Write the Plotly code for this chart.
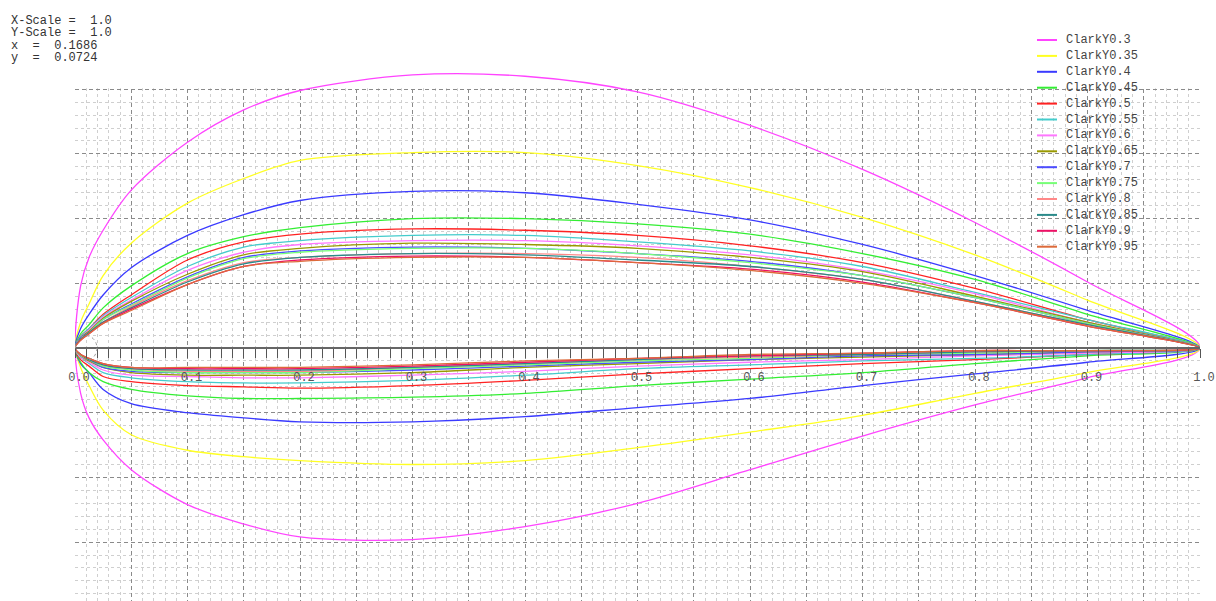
import plotly.graph_objects as go

# chord stations
x_stations = [0, 0.005, 0.0125, 0.025, 0.05, 0.1, 0.15, 0.2, 0.3, 0.4, 0.5, 0.6, 0.7, 0.8, 0.9, 1.0]

names = ["ClarkY0.3", "ClarkY0.35", "ClarkY0.4", "ClarkY0.45", "ClarkY0.5", "ClarkY0.55",
         "ClarkY0.6", "ClarkY0.65", "ClarkY0.7", "ClarkY0.75", "ClarkY0.8", "ClarkY0.85",
         "ClarkY0.9", "ClarkY0.95"]

colors = ["#ff44ff", "#ffff22", "#3a3aff", "#33ee33", "#ff2222", "#44cccc", "#ff77ff",
          "#999900", "#4d4dff", "#77ff77", "#ff8888", "#2a8a8a", "#ee1166", "#dd6a3a"]

upper = {
    "ClarkY0.3":  [0, 0.048, 0.070, 0.091, 0.122, 0.159, 0.184, 0.199, 0.211, 0.210, 0.198, 0.172, 0.138, 0.097, 0.051, 0],
    "ClarkY0.35": [0, 0.020, 0.034, 0.056, 0.081, 0.112, 0.131, 0.145, 0.151, 0.151, 0.141, 0.124, 0.101, 0.072, 0.037, 0],
    "ClarkY0.4":  [0, 0.015, 0.026, 0.041, 0.062, 0.087, 0.103, 0.114, 0.121, 0.120, 0.111, 0.099, 0.080, 0.056, 0.029, 0],
    "ClarkY0.45": [0, 0.011, 0.018, 0.031, 0.048, 0.073, 0.086, 0.093, 0.100, 0.100, 0.096, 0.088, 0.073, 0.053, 0.026, 0],
    "ClarkY0.5":  [0, 0.009, 0.015, 0.026, 0.041, 0.068, 0.082, 0.088, 0.092, 0.091, 0.087, 0.079, 0.066, 0.046, 0.022, 0],
    "ClarkY0.55": [0, 0.009, 0.015, 0.025, 0.039, 0.063, 0.078, 0.083, 0.087, 0.087, 0.082, 0.075, 0.063, 0.043, 0.022, 0],
    "ClarkY0.6":  [0, 0.008, 0.014, 0.024, 0.037, 0.060, 0.074, 0.080, 0.083, 0.083, 0.079, 0.072, 0.060, 0.042, 0.020, 0],
    "ClarkY0.65": [0, 0.008, 0.013, 0.023, 0.036, 0.057, 0.072, 0.077, 0.081, 0.080, 0.077, 0.070, 0.059, 0.040, 0.020, 0],
    "ClarkY0.7":  [0, 0.008, 0.012, 0.022, 0.034, 0.055, 0.070, 0.075, 0.078, 0.077, 0.073, 0.067, 0.056, 0.039, 0.019, 0],
    "ClarkY0.75": [0, 0.007, 0.012, 0.022, 0.033, 0.054, 0.069, 0.074, 0.077, 0.077, 0.073, 0.066, 0.056, 0.039, 0.019, 0],
    "ClarkY0.8":  [0, 0.007, 0.012, 0.020, 0.032, 0.052, 0.066, 0.070, 0.073, 0.073, 0.070, 0.063, 0.053, 0.036, 0.018, 0],
    "ClarkY0.85": [0, 0.007, 0.012, 0.020, 0.031, 0.051, 0.065, 0.070, 0.073, 0.072, 0.068, 0.063, 0.053, 0.036, 0.018, 0],
    "ClarkY0.9":  [0, 0.006, 0.011, 0.019, 0.030, 0.049, 0.063, 0.068, 0.071, 0.070, 0.066, 0.061, 0.051, 0.035, 0.017, 0],
    "ClarkY0.95": [0, 0.006, 0.011, 0.019, 0.029, 0.049, 0.063, 0.067, 0.070, 0.070, 0.066, 0.060, 0.050, 0.035, 0.017, 0],
}

lower = {
    "ClarkY0.3":  [0, -0.035, -0.054, -0.071, -0.094, -0.121, -0.136, -0.146, -0.148, -0.138, -0.120, -0.094, -0.068, -0.044, -0.023, 0],
    "ClarkY0.35": [0, -0.015, -0.029, -0.048, -0.067, -0.079, -0.084, -0.087, -0.090, -0.087, -0.077, -0.065, -0.052, -0.035, -0.019, 0],
    "ClarkY0.4":  [0, -0.012, -0.019, -0.032, -0.043, -0.050, -0.054, -0.057, -0.057, -0.053, -0.046, -0.039, -0.029, -0.020, -0.011, 0],
    "ClarkY0.45": [0, -0.011, -0.019, -0.026, -0.032, -0.037, -0.039, -0.039, -0.038, -0.035, -0.029, -0.024, -0.019, -0.012, -0.006, 0],
    "ClarkY0.5":  [0, -0.009, -0.014, -0.022, -0.026, -0.029, -0.030, -0.031, -0.029, -0.025, -0.020, -0.016, -0.012, -0.009, -0.005, 0],
    "ClarkY0.55": [0, -0.007, -0.012, -0.019, -0.023, -0.026, -0.027, -0.027, -0.025, -0.021, -0.016, -0.013, -0.010, -0.008, -0.005, 0],
    "ClarkY0.6":  [0, -0.007, -0.011, -0.017, -0.021, -0.022, -0.023, -0.023, -0.021, -0.018, -0.014, -0.011, -0.009, -0.006, -0.004, 0],
    "ClarkY0.65": [0, -0.006, -0.010, -0.015, -0.019, -0.021, -0.021, -0.021, -0.019, -0.015, -0.012, -0.009, -0.007, -0.005, -0.003, 0],
    "ClarkY0.7":  [0, -0.006, -0.009, -0.015, -0.018, -0.019, -0.019, -0.019, -0.017, -0.014, -0.011, -0.009, -0.006, -0.005, -0.003, 0],
    "ClarkY0.75": [0, -0.006, -0.009, -0.014, -0.017, -0.019, -0.019, -0.019, -0.016, -0.013, -0.010, -0.008, -0.005, -0.004, -0.002, 0],
    "ClarkY0.8":  [0, -0.005, -0.009, -0.013, -0.016, -0.018, -0.018, -0.018, -0.015, -0.012, -0.009, -0.007, -0.005, -0.003, -0.002, 0],
    "ClarkY0.85": [0, -0.005, -0.009, -0.013, -0.016, -0.017, -0.017, -0.017, -0.015, -0.012, -0.009, -0.006, -0.005, -0.003, -0.002, 0],
    "ClarkY0.9":  [0, -0.005, -0.008, -0.012, -0.015, -0.016, -0.016, -0.016, -0.014, -0.011, -0.008, -0.006, -0.004, -0.002, -0.002, 0],
    "ClarkY0.95": [0, -0.005, -0.008, -0.012, -0.015, -0.015, -0.015, -0.015, -0.013, -0.010, -0.008, -0.005, -0.004, -0.002, -0.002, 0],
}

info_lines = ["X-Scale =  1.0", "Y-Scale =  1.0", "x  =  0.1686", "y  =  0.0724"]

# grid extent (the grid stops at y = 0.2 while curves may go above it)
grid_top = 0.2

# leading edge radius marker (chord units)
le_center = 0.01
le_radius = 0.0095

W, H = 1216, 601
MONO = "Liberation Mono, Courier New, monospace"

fig = go.Figure()
for name, col in zip(names, colors):
    xs = x_stations[::-1] + x_stations[1:]
    ys = upper[name][::-1] + lower[name][1:]
    fig.add_trace(go.Scatter(
        x=xs, y=ys, mode="lines", name=name,
        line=dict(color=col, width=1.3, shape="spline", smoothing=0.9),
        xaxis="x", yaxis="y", showlegend=False,
    ))

y_range = [-0.1955, 0.238]
px_per_unit = 1294.0
y_top_px = 348 - y_range[1] * px_per_unit
x_dom = [75 / W, 1200 / W]
y_dom = [0, 1 - y_top_px / H]

fig.update_layout(
    width=W, height=H,
    margin=dict(l=0, r=0, t=0, b=0, autoexpand=False),
    paper_bgcolor="white", plot_bgcolor="white",
    showlegend=False,
    xaxis=dict(
        domain=x_dom, range=[0, 1], showticklabels=False, ticks="",
        showgrid=True, dtick=0.05, tick0=0, gridcolor="#8a8a8a", griddash="4px,3px", gridwidth=1,
        minor=dict(dtick=0.01, showgrid=True, gridcolor="#cfcfcf", griddash="dot", gridwidth=1),
        zeroline=False, showline=False, fixedrange=True, automargin=False,
    ),
    yaxis=dict(
        domain=y_dom, range=y_range, showticklabels=False, ticks="",
        showgrid=True, dtick=0.05, tick0=0, gridcolor="#8a8a8a", griddash="4px,3px", gridwidth=1,
        minor=dict(dtick=0.01, showgrid=True, gridcolor="#cfcfcf", griddash="dot", gridwidth=1),
        zeroline=False, showline=False, fixedrange=True, automargin=False,
    ),
    xaxis2=dict(
        overlaying="x", anchor="free",
        position=y_dom[0] + (0 - y_range[0]) / (y_range[1] - y_range[0]) * (y_dom[1] - y_dom[0]),
        domain=x_dom, range=[0, 1], side="bottom",
        showline=True, linecolor="#666", linewidth=2,
        ticks="outside", ticklen=9, tickwidth=1, tickcolor="#555",
        dtick=0.1, tick0=0, tickformat=".1f",
        tickfont=dict(family=MONO, size=12, color="#555"),
        ticklabelstandoff=9, ticklabelshift=4, ticklabeloverflow="allow",
        minor=dict(dtick=0.01, ticks="outside", ticklen=9, tickwidth=1, tickcolor="#555", showgrid=False),
        showgrid=False, zeroline=False, fixedrange=True, automargin=False,
    ),
)

# invisible trace to activate xaxis2
fig.add_trace(go.Scatter(x=[0, 1], y=[0, 0], xaxis="x2", yaxis="y", mode="lines",
                         line=dict(width=0), showlegend=False, hoverinfo="skip"))

# hide the grid above its top line (drawn between grid and traces)
fig.add_shape(type="rect", xref="x", yref="y", x0=-0.01, x1=1.01,
              y0=grid_top + 0.0008, y1=y_range[1] + 0.01,
              fillcolor="white", line=dict(width=0), layer="between")

fig.add_shape(type="circle", xref="x", yref="y",
              x0=le_center - le_radius, x1=le_center + le_radius,
              y0=-le_radius, y1=le_radius,
              line=dict(color="#999", width=1, dash="dot"))

# legend drawn as line samples + text (top right)
leg_x0, leg_x1, leg_tx, leg_y0, leg_dy = 1037, 1057, 1064, 40, 15.9
for i, (name, col) in enumerate(zip(names, colors)):
    py = leg_y0 + leg_dy * i
    fig.add_shape(type="line", xref="paper", yref="paper",
                  x0=leg_x0 / W, x1=leg_x1 / W, y0=1 - py / H, y1=1 - py / H,
                  line=dict(color=col, width=2))
    fig.add_annotation(text=name, xref="paper", yref="paper", x=leg_tx / W, y=1 - py / H,
                       xanchor="left", yanchor="middle", showarrow=False,
                       font=dict(family=MONO, size=12, color="#444"))

ys_px = [21, 33, 46, 58]
for txt, py in zip(info_lines, ys_px):
    fig.add_annotation(text=txt, xref="paper", yref="paper", x=9 / W, y=1 - py / H,
                       xanchor="left", yanchor="middle", showarrow=False,
                       font=dict(family=MONO, size=12, color="#333"))

fig.write_html("out.html",
               config={"displayModeBar": False},
               post_script="document.body.style.margin='0';document.body.style.overflow='hidden';")
